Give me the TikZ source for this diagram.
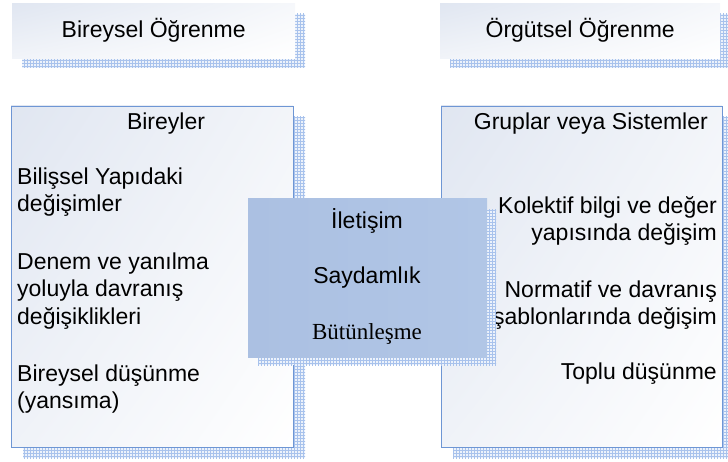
\documentclass[tikz,border=0pt]{standalone}
\usepackage{fontspec}
\setmainfont{Liberation Sans}
\newfontfamily\timesface{Liberation Serif}
\usepackage{tikz}
\usetikzlibrary{patterns}
\usetikzlibrary{shadings}
\definecolor{boxline}{RGB}{110,150,212}
\definecolor{boxtint}{RGB}{224,230,241}
\definecolor{midleft}{RGB}{171,192,226}
\definecolor{midright}{RGB}{177,198,230}
\definecolor{gridline}{RGB}{168,194,236}
\definecolor{gridfill}{RGB}{236,242,251}

\begin{document}
\begin{tikzpicture}[x=1pt,y=-1pt,
        bodytext/.style={font=\fontsize{23}{27.5}\selectfont, inner sep=0pt},
        shadowgrid/.style={preaction={fill=gridfill}, pattern=grid, pattern color=gridline},
        headbox/.style={upper left=boxtint, upper right=white!70!boxtint,
                        lower left=white!55!boxtint, lower right=white, inner sep=0pt, anchor=north west},
        bigbox/.style={draw=boxline, line width=0.8pt, upper left=boxtint, upper right=white!60!boxtint,
                       lower left=white!50!boxtint, lower right=white},
        midbox/.style={left color=midleft, right color=midright, inner sep=0pt, anchor=north west}]
        \useasboundingbox (0,0) rectangle (728,462);
        \begin{scope}

            \fill[shadowgrid] (22,14) rectangle (305,68);
            \node[headbox, bodytext, minimum width=283pt, minimum height=55pt] (bireyselhead) at (12,3) {Bireysel Öğrenme};
            \fill[shadowgrid] (450,14) rectangle (733,68);
            \node[headbox, bodytext, minimum width=280pt, minimum height=55pt] (orgutselhead) at (440,3) {Örgütsel Öğrenme};


            \fill[shadowgrid] (23,117) rectangle (305,458);
            \draw[bigbox] (11,106) rectangle (293,447);
            \node[bodytext] (bireyler) at (166,124) {Bireyler};
            \node[bodytext, anchor=west, align=left] (bilissel) at (17,192) {Bilişsel Yapıdaki\\değişimler};
            \node[bodytext, anchor=west, align=left] (deneme) at (17,291) {Denem ve yanılma\\yoluyla davranış\\değişiklikleri};
            \node[bodytext, anchor=west, align=left] (yansima) at (17,389) {Bireysel düşünme\\(yansıma)};

            \fill[shadowgrid] (453,117) rectangle (733,458);
            \draw[bigbox] (441,106) rectangle (722,447);
            \node[bodytext, anchor=east] (gruplar) at (708,124) {Gruplar veya Sistemler};
            \node[bodytext, anchor=east, align=right] (kolektif) at (717,221) {Kolektif bilgi ve değer\\yapısında değişim};
            \node[bodytext, anchor=east, align=right] (normatif) at (717,305) {Normatif ve davranış\\şablonlarında değişim};
            \node[bodytext, anchor=east] (toplu) at (717,374) {Toplu düşünme};


            \fill[shadowgrid] (258,210) rectangle (496,365);
            \node[midbox, minimum width=239pt, minimum height=159pt] (baglanti) at (248,198) {};
            \node[bodytext] (iletisim) at (367,221) {İletişim};
            \node[bodytext] (saydamlik) at (367,278) {Saydamlık};
            \node[bodytext, font=\timesface\fontsize{23}{27.5}\selectfont] (butunlesme) at (367,334) {Bütünleşme};

        \end{scope}
    \end{tikzpicture}
\end{document}
